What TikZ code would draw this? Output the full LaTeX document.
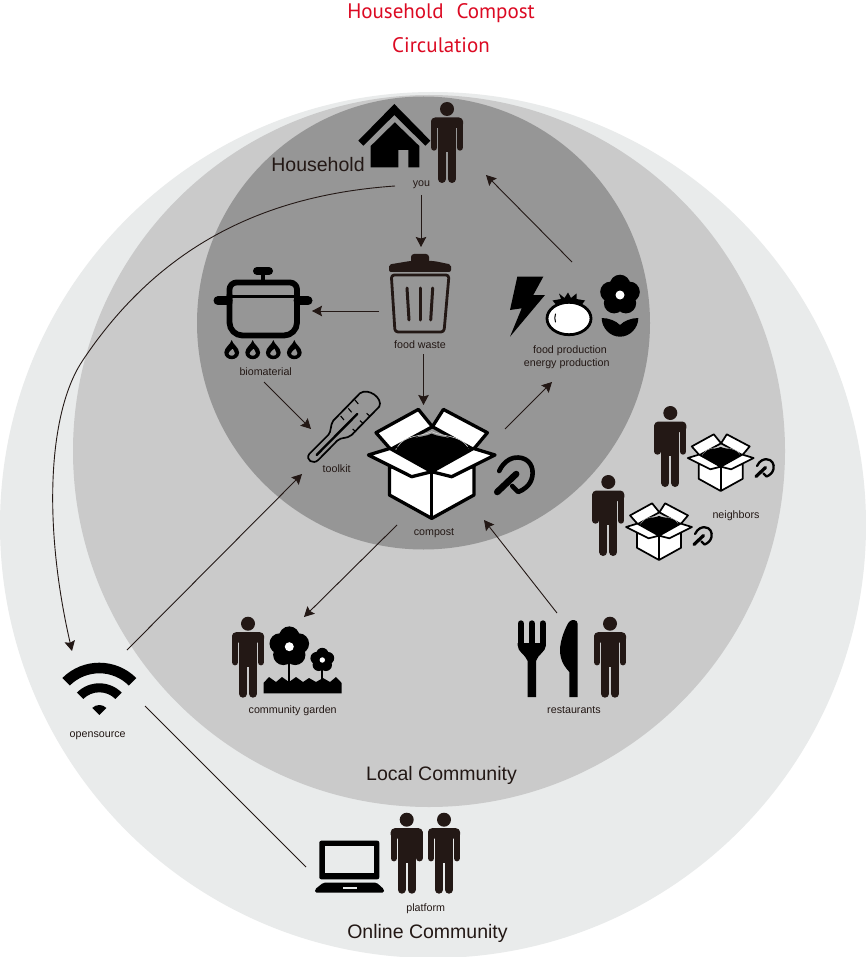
\documentclass[tikz,border=0pt]{standalone}
\usepackage{fontspec}
\setmainfont{Liberation Sans}
\newfontfamily\titlefont{PT Sans}
\usetikzlibrary{arrows.meta}
\definecolor{ringA}{HTML}{E9EBEB}
\definecolor{ringB}{HTML}{CACACA}
\definecolor{ringC}{HTML}{969696}
\definecolor{ink}{HTML}{231815}
\definecolor{titlered}{HTML}{DC0A23}
\tikzset{
  small/.style={font=\fontsize{10.7}{12}\selectfont,text=ink,inner sep=0pt,text height=7.5pt,text depth=2pt,yshift=-1pt},
  big/.style={font=\fontsize{19.5}{22}\selectfont,text=ink,inner sep=0pt,text height=14pt,text depth=4pt,yshift=-2.2pt},
  titletext/.style={font=\titlefont\fontsize{21}{24}\selectfont,text=titlered,inner sep=0pt,text height=15pt,text depth=5pt,yshift=-3pt},
  flow/.style={draw=ink,line width=.9pt,-{Stealth[length=10pt,width=10.5pt,inset=1.5pt]}},
  plain/.style={draw=ink,line width=.9pt}
}
% person: (x,y) = top of head, centre
\newcommand{\PersonIcon}[2]{%
\begin{scope}[shift={(#1,#2)},ink]
  \fill (0,7) circle[radius=7];
  \fill[rounded corners=4] (-16,15.5) rectangle (16,26);
  \fill (-9,18) rectangle (9,50);
  \draw[line width=6.4pt,line cap=round] (-12.8,20) -- (-12.8,45.5);
  \draw[line width=6.4pt,line cap=round] (12.8,20) -- (12.8,45.5);
  \draw[line width=8pt,line cap=round] (-5,45) -- (-5,77);
  \draw[line width=8pt,line cap=round] (5,45) -- (5,77);
\end{scope}}
% compost box: (x,y) = front top vertex; #3 scale
\newcommand{\BoxIcon}[3]{%
\begin{scope}[shift={(#1,#2)},scale=#3,line join=round,line width=#3*3.3pt]
  \filldraw[fill=white,draw=black] (-55.7,-39) -- (-13.3,-62.3) -- (0.7,-45) -- (-41,-22.3) -- cycle;
  \filldraw[fill=white,draw=black] (11.7,-62.3) -- (55.7,-39) -- (41.7,-22.3) -- (0.7,-45) -- cycle;
  \fill[black] (-36,-20) .. controls (-31,-36) and (-10,-33) .. (0,-38) .. controls (10,-33) and (32,-36) .. (38,-20) -- (0,0) -- cycle;
  \draw[white!60!ringC,line width=#3*.6pt] (-34,-25) .. controls (-27,-37) and (-10,-35) .. (0,-40) .. controls (10,-35) and (28,-37) .. (36,-25);
  \filldraw[fill=white,draw=black] (-42.3,-5) -- (-42.3,23.3) -- (0,46.7) -- (42.3,23.3) -- (42.3,-5) -- (0,0) -- cycle;
  \draw[black] (0,0) -- (0,46.7);
  \filldraw[fill=white,draw=black] (-63.3,-16.7) -- (-41.7,-23.3) -- (0,0) -- (-20,5) -- cycle;
  \filldraw[fill=white,draw=black] (63.3,-16.7) -- (41.7,-23.3) -- (0,0) -- (20,5) -- cycle;
\end{scope}}
% hook tool
\newcommand{\HookIcon}[3]{%
\begin{scope}[shift={(#1,#2)},scale=#3,black,line cap=round,line join=round]
  \draw[line width=#3*6.5pt] (-18,17) -- (1,-1);
  \draw[line width=#3*4.6pt] (-16,-4) .. controls (-11,-15) and (-2,-18) .. (3,-17.5) .. controls (14,-17) and (19,-8) .. (17,2) .. controls (15,11) and (8,15) .. (3,17) -- (-3,11);
\end{scope}}
% flower
\newcommand{\FlowerIcon}[3]{%
\begin{scope}[shift={(#1,#2)},scale=#3]
  \foreach \a in {-90,-18,54,126,198} \fill[black] (\a:10) circle[radius=10.3];
  \fill[black] (0,0) circle[radius=9];
  \fill[white] (0,0) circle[radius=4.5];
\end{scope}}
\newcommand{\FlameIcon}[2]{%
\begin{scope}[shift={(#1,#2)},xscale=1.1]
  \fill[black,even odd rule] (0,-9.5) .. controls (1,-5) and (6.7,-2) .. (6.7,3) .. controls (6.7,7) and (3.5,9.7) .. (0,9.7) .. controls (-3.5,9.7) and (-6.7,7) .. (-6.7,3) .. controls (-6.7,-2) and (-1,-5) .. (0,-9.5) -- cycle
  (1,-1) .. controls (1.5,1) and (3,2.5) .. (3,3.8) .. controls (3,5.5) and (1.5,6.3) .. (0,6.3) .. controls (-1.8,6.3) and (-3,5.3) .. (-3,3.8) .. controls (-3,2) and (-.5,1) .. (1,-1) -- cycle;
\end{scope}}
\begin{document}
\begin{tikzpicture}[x=1pt,y=-1pt]
\useasboundingbox (0,0) rectangle (866,957);
\fill[white] (0,0) rectangle (866,957);
% rings
\fill[ringA] (433,525) circle[radius=433];
\fill[ringB] (429,451) circle[radius=356];
\fill[ringC] (423.5,323) circle[radius=226.5];

% house
\fill[black] (394.3,104) -- (358.3,140.7) -- (363.3,145.7) -- (394.3,115) -- (425.3,145.7) -- (430.3,140.7) -- cycle;
\fill[black] (394.8,122.3) -- (370.7,146) -- (370.7,167.3) -- (398.3,167.3) -- (398.3,150) -- (408.3,150) -- (408.3,167.3) -- (419.3,167.3) -- (419.3,146) -- cycle;
\PersonIcon{447}{102}

% pot
\begin{scope}[black,line join=round,line cap=round]
  \draw[line width=5.8pt,rounded corners=7] (229.5,303) -- (229.5,282.5) -- (297,282.5) -- (297,303);
  \draw[line width=5.8pt,rounded corners=13] (229.5,295) -- (229.5,335.5) -- (297,335.5) -- (297,295);
  \draw[line width=3.8pt] (229.5,296.5) -- (297,296.5);
  \draw[line width=9pt] (218,300.7) -- (228,300.7);
  \draw[line width=9pt] (298,300.7) -- (308,300.7);
  \draw[line width=8pt] (257,271) -- (269,271);
  \draw[line width=4.5pt] (263,272) -- (263,280);
\end{scope}
\FlameIcon{231.7}{349.5}
\FlameIcon{252.7}{349.5}
\FlameIcon{273.3}{349.5}
\FlameIcon{294.3}{349.5}

% trash can
\begin{scope}[ink,line join=round]
  \fill[rounded corners=2] (389,272) -- (389,264.5) -- (410,261) -- (434,261) -- (451,264.5) -- (451,272) -- cycle;
  \fill[rounded corners=3] (411,264) -- (411,254) -- (429,254) -- (429,264) -- cycle;
  \draw[line width=2.8pt,rounded corners=3] (391.3,275) -- (395,332) -- (444,332) -- (449,275) -- cycle;
  \draw[line width=3pt,line cap=round] (407,288) -- (409,320);
  \draw[line width=3pt,line cap=round] (420,288) -- (420,320);
  \draw[line width=3pt,line cap=round] (432.7,288) -- (430.7,320);
\end{scope}

% bolt, tomato, flower
\fill[black] (517.3,276.7) -- (543.3,276.7) -- (533.3,295) -- (545,295) -- (510,336.7) -- (521.7,308.3) -- (510,310) -- cycle;
\fill[black] (552.5,300.5) -- (561,299) -- (559,293.5) -- (564.5,298) -- (568,292.5) -- (571,298) -- (576.5,293.5) -- (576.5,299) -- (585,300.5) -- (580,307) -- (558,307) -- cycle;
\filldraw[fill=white,draw=black,line width=2.8pt] (569,318.5) ellipse[x radius=22,y radius=16.2];
\draw[black,line width=1pt,line cap=round] (555.5,314) .. controls (554.5,317) and (554.5,319) .. (555.5,322);
\FlowerIcon{620}{295}{1}
\fill[black] (601.7,318) .. controls (609,318) and (616,321) .. (620,325) .. controls (624,321) and (631,318) .. (638.3,318) .. controls (638.3,328) and (630,336.7) .. (620,336.7) .. controls (610,336.7) and (601.7,328) .. (601.7,318) -- cycle;

% thermometer
\begin{scope}[x=.3333pt,y=-.3333pt,shift={(900,1140)}]
  \draw[black,line width=1.7pt,line join=round] (28,222) -- (85,165) .. controls (95,155) and (90,135) .. (100,122) -- (180,40) .. controls (205,22) and (250,55) .. (238,80) -- (155,165) .. controls (140,178) and (125,170) .. (112,182) -- (55,240) .. controls (40,255) and (15,240) .. (28,222) -- cycle;
  \draw[black,line width=2.4pt,line cap=round] (50,225) -- (172,102);
  \foreach \p/\q in {165/60,145/85,122/108} \draw[black,line width=1.1pt] (\p,\q) -- ++(10,12);
  \foreach \p/\q in {200/100,180/122,158/147} \draw[black,line width=1.1pt] (\p,\q) -- ++(10,9);
\end{scope}

% main box and tool
\BoxIcon{431.7}{471.7}{1}
\HookIcon{515.2}{475}{1}

% neighbours
\PersonIcon{670.3}{406}
\BoxIcon{720.7}{466.7}{.52}
\HookIcon{765}{468}{.5}
\PersonIcon{608.3}{475}
\BoxIcon{659}{535.7}{.52}
\HookIcon{703}{536}{.5}

% community garden
\PersonIcon{248}{616.7}
\draw[black,line width=2pt] (289.3,660) -- (289.3,685);
\draw[black,line width=2pt] (322.3,665) -- (322.3,685);
\FlowerIcon{289.3}{646.7}{1}
\FlowerIcon{322.3}{660}{.6}
\fill[black] (263.5,693.3) -- (263.5,683) -- (269,677) -- (276,682) -- (282,677) -- (289,682) -- (296,677) -- (303,682) -- (309,678) -- (316,682) -- (323,678) -- (330,682) -- (336,677) -- (341.7,683) -- (341.7,693.3) -- cycle;

% cutlery
\begin{scope}[black]
  \draw[line width=6.4pt,line cap=round] (520.8,623.5) -- (520.8,645);
  \draw[line width=6.4pt,line cap=round] (531.7,623.5) -- (531.7,645);
  \draw[line width=6.4pt,line cap=round] (542.7,623.5) -- (542.7,645);
  \fill (517.6,643) -- (545.9,643) -- (545.9,645) .. controls (545.9,652) and (538,654) .. (536,661) -- (536,697) -- (527.7,697) -- (527.7,661) .. controls (525,654) and (517.6,652) .. (517.6,645) -- cycle;
  \fill (577.7,697) -- (569.3,697) -- (569.3,672) .. controls (566,668) and (560,662) .. (560,650) .. controls (560,640) and (566,626) .. (569,622) .. controls (571,619) and (577.7,619) .. (577.7,624) -- cycle;
\end{scope}
\PersonIcon{610}{616.7}

% wifi
\begin{scope}[shift={(99.3,715)},black]
  \fill (225:52.3) arc[start angle=225,end angle=315,radius=52.3] -- (315:41.7) arc[start angle=315,end angle=225,radius=41.7] -- cycle;
  \fill (225:31.7) arc[start angle=225,end angle=315,radius=31.7] -- (315:22.7) arc[start angle=315,end angle=225,radius=22.7] -- cycle;
  \fill (225:10) arc[start angle=225,end angle=315,radius=10] -- (0,0) -- cycle;
\end{scope}

% laptop
\fill[black,rounded corners=2] (319.3,840.7) rectangle (379.3,879.3);
\fill[ringA] (325,845.7) rectangle (374.3,873.3);
\fill[black,rounded corners=1.5] (323.3,882.7) -- (376.7,882.7) -- (384,889.3) -- (384,892.7) -- (315,892.7) -- (315,889.3) -- cycle;
\fill[ringA] (342.7,887.3) rectangle (357.3,889);
\PersonIcon{406.7}{812.7}
\PersonIcon{444}{812.7}

% texts
\node[titletext] (t1) at (441,11) {Household\hspace{.35em} Compost};
\node[titletext] (t2) at (441,45) {Circulation};
\node[big] (lh) at (318,164) {Household};
\node[big] (ll) at (441.5,773) {Local Community};
\node[big] (lo) at (427.5,931) {Online Community};
\node[small] (you) at (421.5,182.5) {you};
\node[small] (waste) at (420,345) {food waste};
\node[small] (bio) at (265.7,371.7) {biomaterial};
\node[small] (tool) at (336.7,469) {toolkit};
\node[small] (comp) at (434,531.7) {compost};
\node[small] (food) at (570,350) {food production};
\node[small] (energy) at (566.7,363) {energy production};
\node[small] (neigh) at (736,514.3) {neighbors};
\node[small] (garden) at (292.7,709.3) {community garden};
\node[small] (rest) at (574,710) {restaurants};
\node[small] (open) at (97.7,733.3) {opensource};
\node[small] (plat) at (425.7,907.3) {platform};

% connector ends
\coordinate (youS) at (421,195);
\coordinate (wasteN) at (421,247);
\coordinate (wasteW) at (379,311);
\coordinate (bioE) at (312,311);
\coordinate (wasteS) at (423.5,354);
\coordinate (compN) at (423.5,405);
\coordinate (bioS) at (264,382);
\coordinate (toolNW) at (311,429);
\coordinate (compNE) at (505,429);
\coordinate (foodS) at (552,382);
\coordinate (foodN) at (572,262);
\coordinate (youE) at (486,175);
\coordinate (compSW) at (397,525);
\coordinate (gardenN) at (304,617);
\coordinate (restN) at (557,613);
\coordinate (compSE) at (484,520);
\coordinate (openNE) at (127,650);
\coordinate (toolSW) at (302,474);
\coordinate (youW) at (395,186);
\coordinate (curveMid) at (83,360);
\coordinate (openN) at (72,651);
\coordinate (openSE) at (145,706);
\coordinate (platW) at (306,867);

\draw[flow] (youS) -- (wasteN);
\draw[flow] (wasteW) -- (bioE);
\draw[flow] (wasteS) -- (compN);
\draw[flow] (bioS) -- (toolNW);
\draw[flow] (compNE) -- (foodS);
\draw[flow] (foodN) -- (youE);
\draw[flow] (compSW) -- (gardenN);
\draw[flow] (restN) -- (compSE);
\draw[flow] (openNE) -- (toolSW);
\draw[flow] (youW) .. controls (265,195) and (160,245) .. (curveMid) .. controls (49,410) and (42,520) .. (openN);
\draw[plain] (openSE) -- (platW);
\end{tikzpicture}
\end{document}
